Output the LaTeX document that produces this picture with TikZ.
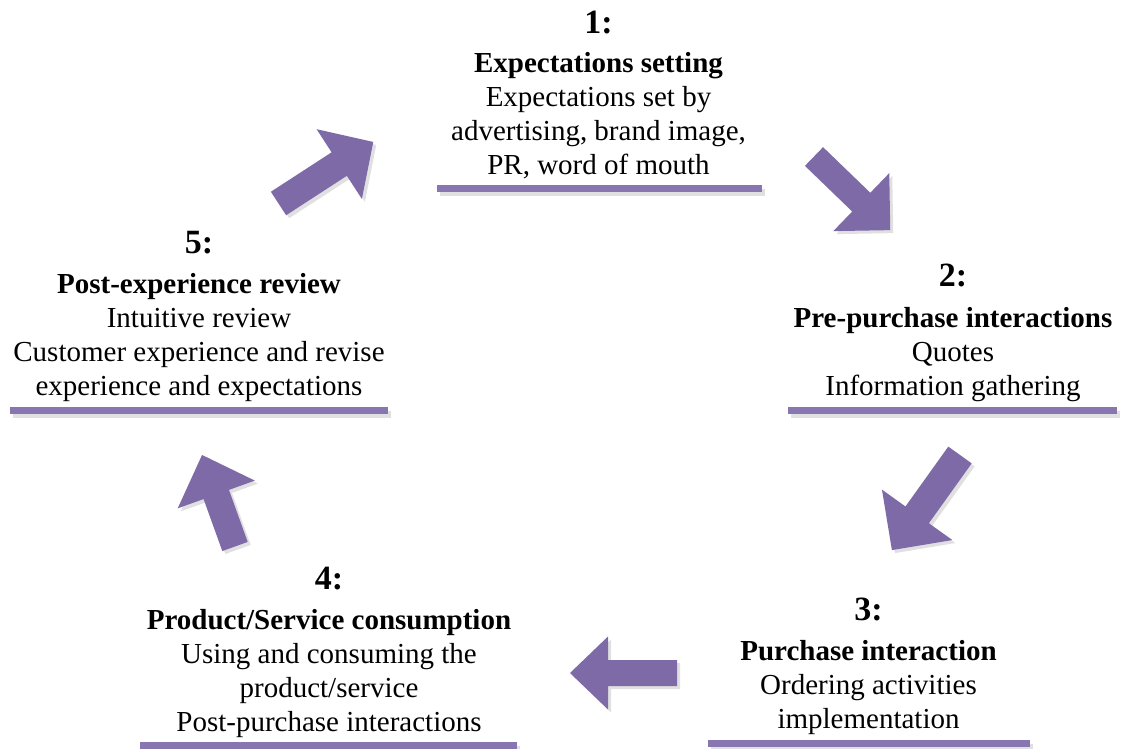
\documentclass[tikz,border=0pt]{standalone}
\usepackage{fontspec}
\setmainfont{Liberation Serif}

\definecolor{cyclepurple}{RGB}{127,106,168}
\definecolor{barpurple}{RGB}{136,118,176}
\definecolor{shadowgray}{RGB}{224,224,224}

% Block arrow: #1,#2 tail centre, #3 angle, #4 length,
% #5 half shaft width, #6 half head width, #7 head length
\newcommand{\cyclearrow}[7]{%
  \begin{scope}[shift={(#1,#2)},xshift=3pt,yshift=-3pt,rotate=#3]
    \fill[shadowgray] (0,-#5) -- (#4-#7,-#5) -- (#4-#7,-#6) -- (#4,0)
      -- (#4-#7,#6) -- (#4-#7,#5) -- (0,#5) -- cycle;
  \end{scope}
  \begin{scope}[shift={(#1,#2)},rotate=#3]
    \fill[cyclepurple] (0,-#5) -- (#4-#7,-#5) -- (#4-#7,-#6) -- (#4,0)
      -- (#4-#7,#6) -- (#4-#7,#5) -- (0,#5) -- cycle;
  \end{scope}}

% Underline bar with a soft drop shadow: corners (#1,#2) and (#3,#4)
\newcommand{\stagebar}[4]{%
  \fill[shadowgray] (#1+3,#2+4) rectangle (#3+3,#4+4);
  \fill[barpurple] (#1,#2) rectangle (#3,#4);}

\newcommand{\stagenum}[1]{{\fontsize{34}{34}\selectfont\bfseries #1}}

% anchored at the baseline of the last text line
\tikzset{
  stagetext/.style={align=center, inner sep=0pt, anchor=base,
    font=\fontsize{29}{34}\selectfont}
}

\begin{document}
\begin{tikzpicture}[x=1pt,y=-1pt]
  \useasboundingbox (0,0) rectangle (1122,749);

  % stage texts
  \node[stagetext] (s1) at (598.5,175) {\stagenum{1:}\\[6pt]
    \textbf{Expectations setting}\\Expectations set by\\
    advertising, brand image,\\PR, word of mouth};
  \node[stagetext] (s2) at (953,395) {\stagenum{2:}\\[7pt]
    \textbf{Pre-purchase interactions}\\Quotes\\Information gathering};
  \node[stagetext] (s3) at (868.5,728) {\stagenum{3:}\\[6pt]
    \textbf{Purchase interaction}\\Ordering activities\\implementation};
  \node[stagetext] (s4) at (329,731) {\stagenum{4:}\\[6pt]
    \textbf{Product/Service consumption}\\Using and consuming the\\
    product/service\\Post-purchase interactions};
  \node[stagetext] (s5) at (199,395) {\stagenum{5:}\\[6pt]
    \textbf{Post-experience review}\\Intuitive review\\
    Customer experience and revise\\experience and expectations};

  % underline bars
  \stagebar{437}{185}{762}{192}
  \stagebar{788}{407}{1117}{414}
  \stagebar{708}{740}{1030}{747}
  \stagebar{140}{742}{517}{749}
  \stagebar{10}{407}{388}{414}

  % cycle arrows
  \cyclearrow{278.5}{203.5}{33}{113}{14}{41.6}{40.6}
  \cyclearrow{814}{156.5}{-44}{106}{13}{40.3}{40.3}
  \cyclearrow{960}{455}{-125.6}{117}{14.4}{43.3}{43.4}
  \cyclearrow{677}{673}{180}{107}{13}{36.5}{38}
  \cyclearrow{235}{546.5}{109.8}{97.3}{13.5}{41}{42}
\end{tikzpicture}
\end{document}
